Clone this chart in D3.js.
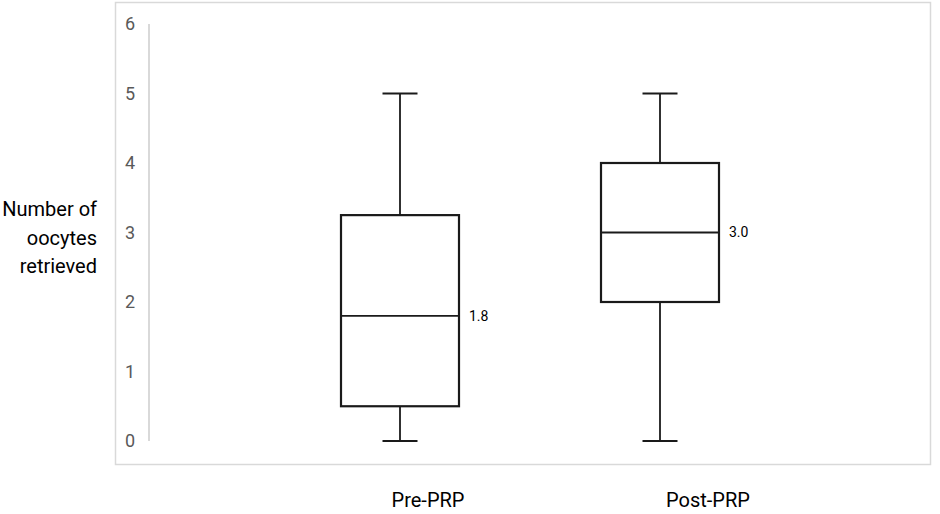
<!DOCTYPE html>
<html>
<head>
<meta charset="utf-8">
<script src="https://cdn.jsdelivr.net/npm/d3@7"></script>
<style>
body { margin: 0; background: #fff; }
text { font-family: Roboto, "Liberation Sans", Arial, sans-serif; }
</style>
</head>
<body>
<div id="chart"></div>
<script>
// data
var groups = ["Pre-PRP", "Post-PRP"];
var mins = [0, 0];
var q1s = [0.5, 2];
var medians = [1.8, 3.0];
var q3s = [3.25, 4];
var maxs = [5, 5];
var medianLabels = ["1.8", "3.0"];
var yTicks = [0, 1, 2, 3, 4, 5, 6];

var width = 940, height = 514;

var svg = d3.select("#chart")
	.append("svg")
	.attr("width", width)
	.attr("height", height);

// outer frame
svg.append("rect")
	.attr("x", 115.5).attr("y", 2.5)
	.attr("width", 815).attr("height", 462)
	.attr("fill", "none")
	.attr("stroke", "#d9d9d9")
	.attr("stroke-width", 1.5);

var y = d3.scaleLinear()
	.domain([0, 6])
	.range([441, 24]);

var x = d3.scaleBand()
	.domain(groups)
	.range([270, 790]);

// category labels sit a bit off the boxes in the original
var xLabel = d3.scaleBand()
	.domain(groups)
	.range([288, 848]);

var boxW = 118, capW = 35;

// y axis
var yAxis = d3.axisLeft(y)
	.tickValues(yTicks)
	.tickFormat(d3.format("d"))
	.tickSize(0)
	.tickPadding(14);

var gy = svg.append("g")
	.attr("transform", "translate(149,0)")
	.call(yAxis);
gy.select(".domain").attr("stroke", "#d9d9d9").attr("stroke-width", 2)
	.attr("d", "M0," + y(6) + "V" + y(0));
gy.selectAll("text")
	.attr("fill", "#595959")
	.style("font-size", "18px")
	.attr("text-anchor", "middle")
	.attr("x", -19);

// y title
var title = ["Number of", "oocytes", "retrieved"];
svg.append("text")
	.attr("text-anchor", "end")
	.style("font-size", "20px")
	.attr("fill", "#000")
	.selectAll("tspan")
	.data(title)
	.enter().append("tspan")
	.attr("x", 97)
	.attr("y", function(d, i) { return 216 + i * 28.5; })
	.text(function(d) { return d; });

var boxes = svg.selectAll(".box")
	.data(groups)
	.enter().append("g")
	.attr("class", "box");

function cx(d) { return x(d) + x.bandwidth() / 2; }

// whiskers
boxes.append("line")
	.attr("x1", cx).attr("x2", cx)
	.attr("y1", function(d, i) { return y(maxs[i]); })
	.attr("y2", function(d, i) { return y(q3s[i]); })
	.attr("stroke", "#1a1a1a").attr("stroke-width", 1.8);
boxes.append("line")
	.attr("x1", cx).attr("x2", cx)
	.attr("y1", function(d, i) { return y(q1s[i]); })
	.attr("y2", function(d, i) { return y(mins[i]); })
	.attr("stroke", "#1a1a1a").attr("stroke-width", 1.8);

// caps
boxes.append("line")
	.attr("x1", function(d) { return cx(d) - capW / 2; })
	.attr("x2", function(d) { return cx(d) + capW / 2; })
	.attr("y1", function(d, i) { return y(maxs[i]); })
	.attr("y2", function(d, i) { return y(maxs[i]); })
	.attr("stroke", "#1a1a1a").attr("stroke-width", 2);
boxes.append("line")
	.attr("x1", function(d) { return cx(d) - capW / 2; })
	.attr("x2", function(d) { return cx(d) + capW / 2; })
	.attr("y1", function(d, i) { return y(mins[i]); })
	.attr("y2", function(d, i) { return y(mins[i]); })
	.attr("stroke", "#1a1a1a").attr("stroke-width", 2);

// box
boxes.append("rect")
	.attr("x", function(d) { return cx(d) - boxW / 2; })
	.attr("y", function(d, i) { return y(q3s[i]); })
	.attr("width", boxW)
	.attr("height", function(d, i) { return y(q1s[i]) - y(q3s[i]); })
	.attr("fill", "#fff")
	.attr("stroke", "#1a1a1a").attr("stroke-width", 2.2);

// median
boxes.append("line")
	.attr("x1", function(d) { return cx(d) - boxW / 2; })
	.attr("x2", function(d) { return cx(d) + boxW / 2; })
	.attr("y1", function(d, i) { return y(medians[i]); })
	.attr("y2", function(d, i) { return y(medians[i]); })
	.attr("stroke", "#1a1a1a").attr("stroke-width", 1.8);

// median label
boxes.append("text")
	.attr("x", function(d) { return cx(d) + boxW / 2 + 10; })
	.attr("y", function(d, i) { return y(medians[i]); })
	.attr("dy", "0.35em")
	.style("font-size", "14px")
	.attr("fill", "#000")
	.text(function(d, i) { return medianLabels[i]; });

// category labels
boxes.append("text")
	.attr("x", function(d) { return xLabel(d) + xLabel.bandwidth() / 2; })
	.attr("y", 507)
	.attr("text-anchor", "middle")
	.style("font-size", "20px")
	.attr("fill", "#000")
	.text(function(d) { return d; });
</script>
</body>
</html>
